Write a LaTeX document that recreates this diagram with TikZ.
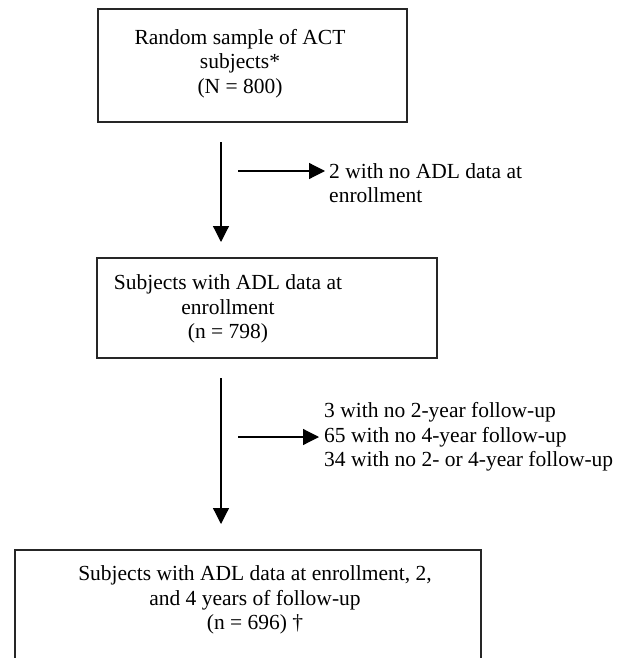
\documentclass[tikz,border=0pt]{standalone}
\usepackage{fontspec}
\setmainfont{Liberation Serif}
\usetikzlibrary{arrows.meta}
\begin{document}
\begin{tikzpicture}[x=1pt,y=-1pt,
  boxline/.style={draw=black!85, line width=1.4pt},
  txt/.style={font=\fontsize{21.5}{24.5}\selectfont, inner sep=0pt, align=center},
  side/.style={font=\fontsize{21.5}{24.5}\selectfont, inner sep=0pt, align=left, anchor=west},
  arr/.style={line width=1.2pt, -{Triangle[length=16pt,width=16pt]}}]
\useasboundingbox (0,0) rectangle (634,658);
% box 1
\node[boxline, minimum width=309pt, minimum height=113pt, inner sep=0pt] (b1) at (252.5,65.5) {};
\node[txt] (t1) at (240,63.5) {Random sample of ACT\\subjects*\\(N = 800)};
% box 2
\node[boxline, minimum width=340pt, minimum height=100pt, inner sep=0pt] (b2) at (267,308) {};
\node[txt] (t2) at (228,309) {Subjects with ADL data at\\enrollment\\(n = 798)};
% box 3 (cut off at bottom)
\coordinate (b3bl) at (15,658);
\coordinate (b3tl) at (15,550);
\coordinate (b3tr) at (481,550);
\coordinate (b3br) at (481,658);
\draw[boxline] (b3bl) -- (b3tl) -- (b3tr) -- (b3br);
\node[txt] (t3) at (255,600) {Subjects with ADL data at enrollment, 2,\\and 4 years of follow-up\\(n = 696) †};
% arrows
\coordinate (v1s) at (221,142);
\coordinate (v1e) at (221,242);
\draw[arr] (v1s) -- (v1e);
\coordinate (h1s) at (238,171);
\node[side] (e1) at (329,183) {2 with no ADL data at\\enrollment};
\draw[arr] (h1s) -- ([xshift=-4pt]h1s -| e1.west);
\coordinate (v2s) at (221,378);
\coordinate (v2e) at (221,524);
\draw[arr] (v2s) -- (v2e);
\coordinate (h2s) at (238,437);
\node[side] (e2) at (324,437) {3 with no 2-year follow-up\\65 with no 4-year follow-up\\34 with no 2- or 4-year follow-up};
\draw[arr] (h2s) -- ([xshift=-5pt]h2s -| e2.west);
\end{tikzpicture}
\end{document}
